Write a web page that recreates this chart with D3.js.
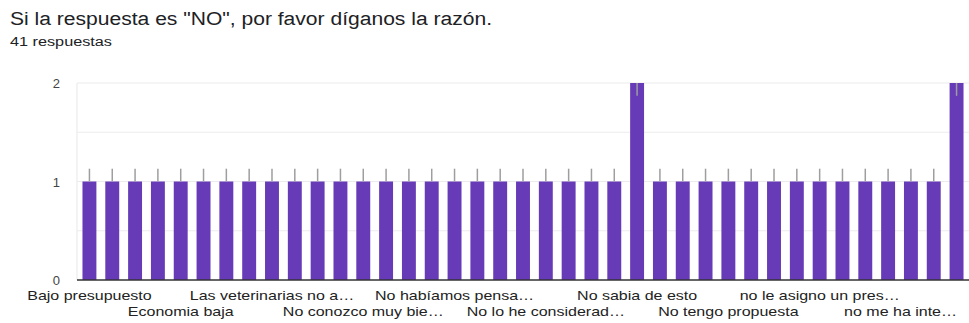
<!DOCTYPE html>
<html>
<head>
<meta charset="utf-8">
<script src="https://cdn.jsdelivr.net/npm/d3@7"></script>
<style>
  body { margin: 0; background: #fff; }
  text { font-family: "Liberation Sans", Arial, sans-serif; }
</style>
</head>
<body>
<div id="chart"></div>
<script>
// chart texts
var title = "Si la respuesta es \"NO\", por favor díganos la razón.";
var subtitle = "41 respuestas";

// answers, sorted the way the form sorts them (only every 4th one is labelled)
var categories = [
  "Bajo presupuesto", "Costos elevados", "Desconocimiento", "Dinero",
  "Economia baja", "Es muy caro", "Falta de dinero", "Falta de información",
  "Las veterinarias no a…", "Más adelante", "Mi mascota es sana", "No confío en el servicio",
  "No conozco muy bie…", "No creo necesario", "No es necesario", "No estoy interesado",
  "No habíamos pensa…", "No hay dinero", "No he tenido tiempo", "No lo considero necesario",
  "No lo he considerad…", "No me interesa", "No necesito", "No poseo mascota",
  "No sabia de esto", "No se", "No sé todavía", "No tengo dinero",
  "No tengo propuesta", "Por ahora no", "Sin recursos", "Tengo otras prioridades",
  "no le asigno un pres…", "no lo creo necesario", "no lo he pensado", "no me alcanza",
  "no me ha inte…", "no tengo tiempo", "por ahora no"
];
var counts = [
  1, 1, 1, 1, 1, 1, 1, 1, 1, 1, 1, 1,
  1, 1, 1, 1, 1, 1, 1, 1, 1, 1, 1, 1,
  2, 1, 1, 1, 1, 1, 1, 1, 1, 1, 1, 1,
  1, 1, 2
];
var yTicks = [0, 1, 2];
var yGrid = [0.5, 1, 1.5, 2];

var width = 969, height = 323;
var plot = {left: 77, right: 969, top: 83, bottom: 280};
var labelStretch = 1.23;

var svg = d3.select("#chart").append("svg")
    .attr("width", width)
    .attr("height", height);

// title and number of answers
svg.append("text")
    .attr("x", 10)
    .attr("y", 25)
    .attr("font-size", 18)
    .attr("fill", "#202124")
    .attr("textLength", 482)
    .attr("lengthAdjust", "spacingAndGlyphs")
    .text(title);

svg.append("text")
    .attr("x", 10)
    .attr("y", 46)
    .attr("font-size", 12.5)
    .attr("fill", "#202124")
    .attr("textLength", 102)
    .attr("lengthAdjust", "spacingAndGlyphs")
    .text(subtitle);

// scales
var x = d3.scaleBand()
    .domain(categories)
    .range([plot.left, plot.right])
    .paddingInner(0.39)
    .paddingOuter(0.24);

var y = d3.scaleLinear()
    .domain([0, 2])
    .range([plot.bottom, plot.top]);

// light gridlines
svg.append("g")
    .selectAll("line")
    .data(yGrid)
    .join("line")
    .attr("x1", plot.left)
    .attr("x2", plot.right)
    .attr("y1", d => y(d))
    .attr("y2", d => y(d))
    .attr("stroke", "#ececec")
    .attr("stroke-width", 1.2);

svg.append("line")
    .attr("x1", plot.left)
    .attr("x2", plot.left)
    .attr("y1", y(2))
    .attr("y2", y(0))
    .attr("stroke", "#ececec")
    .attr("stroke-width", 1.2);

// bars
var data = categories.map((c, i) => ({name: c, value: counts[i]}));

svg.append("g")
    .selectAll("rect")
    .data(data)
    .join("rect")
    .attr("x", d => x(d.name))
    .attr("y", d => y(d.value))
    .attr("width", x.bandwidth())
    .attr("height", d => y(0) - y(d.value))
    .attr("fill", "#673ab7");

// small grey marks on top of the bars (kept inside the plot when clipped)
svg.append("g")
    .selectAll("line")
    .data(data)
    .join("line")
    .attr("x1", d => x(d.name) + x.bandwidth() / 2)
    .attr("x2", d => x(d.name) + x.bandwidth() / 2)
    .attr("y1", d => y(Math.min(d.value + 0.13, 2)))
    .attr("y2", d => y(Math.min(d.value + 0.13, 2) - 0.13))
    .attr("stroke", "#9e9e9e")
    .attr("stroke-width", 1.5);

// baseline
svg.append("line")
    .attr("x1", plot.left)
    .attr("x2", plot.right)
    .attr("y1", y(0))
    .attr("y2", y(0))
    .attr("stroke", "#333")
    .attr("stroke-width", 1.6);

// y axis labels
var yAxis = d3.axisLeft(y)
    .tickValues(yTicks)
    .tickFormat(d3.format("d"))
    .tickSize(0)
    .tickPadding(0);

svg.append("g")
    .attr("transform", "translate(60,0)")
    .call(yAxis)
    .call(g => g.select(".domain").remove())
    .call(g => g.selectAll("text")
        .attr("font-family", "Liberation Sans, Arial, sans-serif")
        .attr("font-size", 13)
        .attr("fill", "#444")
        .attr("dy", "0.36em"));

// x axis labels, every 4th category, staggered in two rows
var labelled = categories.filter((c, i) => i % 4 === 0);

var xAxis = d3.axisBottom(x)
    .tickValues(labelled)
    .tickSize(0)
    .tickPadding(0);

svg.append("g")
    .attr("transform", "translate(0," + y(0) + ")")
    .call(xAxis)
    .call(g => g.select(".domain").remove())
    .call(g => g.selectAll("text")
        .attr("font-family", "Liberation Sans, Arial, sans-serif")
        .attr("font-size", 13)
        .attr("fill", "#222")
        .attr("dy", null)
        .attr("y", (d, i) => i % 2 === 0 ? 20 : 36)
        .each(function() {
          var w = this.getComputedTextLength();
          d3.select(this)
              .attr("textLength", w * labelStretch)
              .attr("lengthAdjust", "spacingAndGlyphs");
        }));

// keep the last label inside the picture
svg.selectAll(".tick text").each(function() {
  var tx = d3.select(this.parentNode).attr("transform");
  var cx = +tx.match(/translate\(([-\d.]+)/)[1];
  var w = +d3.select(this).attr("textLength");
  if (cx + w / 2 > width - 12) {
    d3.select(this).attr("x", width - 12 - w / 2 - cx);
  }
});
</script>
</body>
</html>
